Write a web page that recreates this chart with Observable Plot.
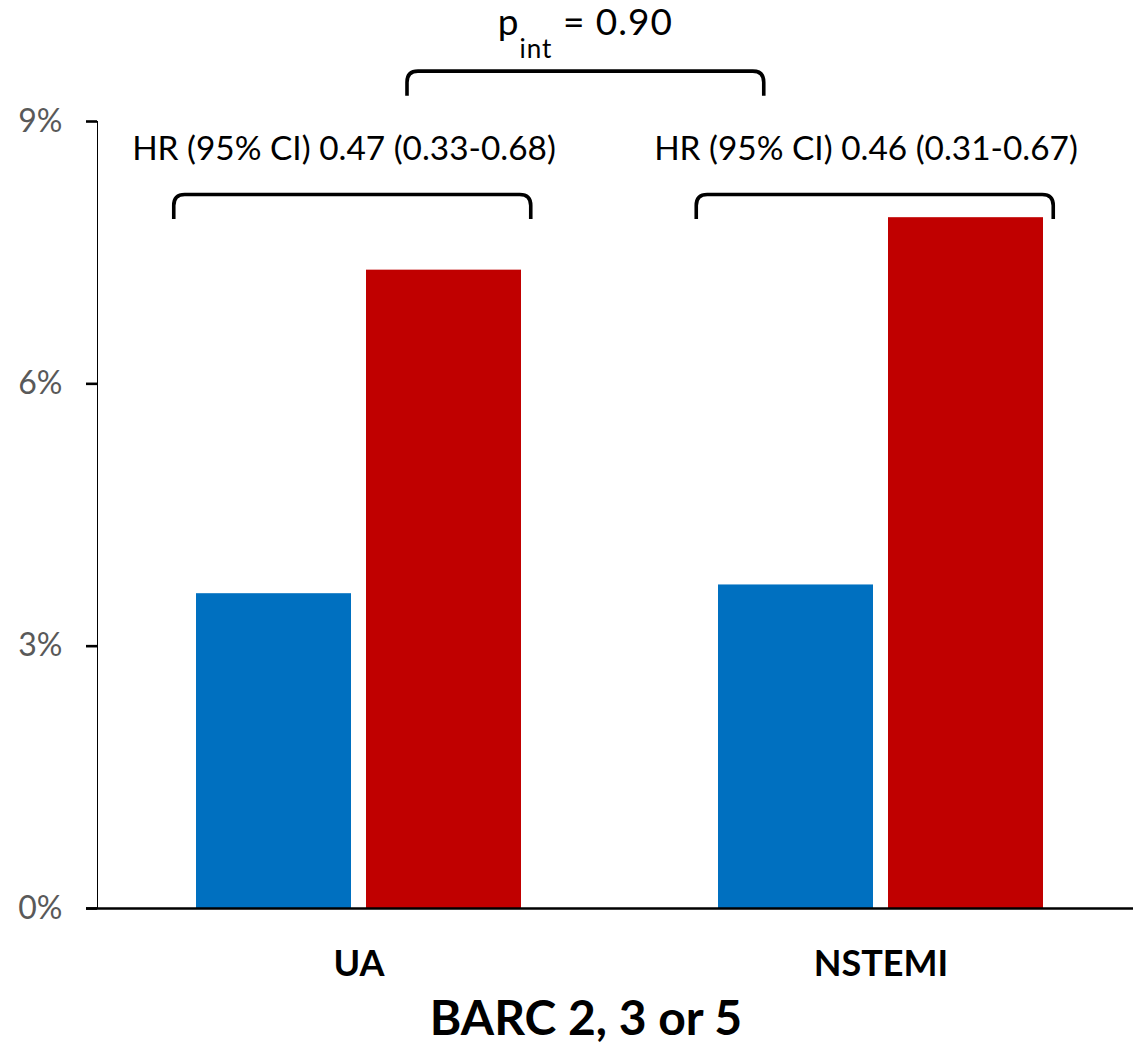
<!DOCTYPE html>
<html><head><meta charset="utf-8">
<script src="https://cdn.jsdelivr.net/npm/d3@7"></script>
<script src="https://cdn.jsdelivr.net/npm/@observablehq/plot@0.6"></script>
<style>
body{margin:0;background:#fff;font-family:Lato,"Open Sans",sans-serif}
svg{display:block}
#title{position:relative;top:5px;width:1133px;height:63px;box-sizing:border-box;padding-left:39px;text-align:center;font-weight:bold;font-size:48px;line-height:63px;color:#000}
</style>
</head><body><div id="chart"></div><div id="title"></div>
<script>
// ---- data ----
const groups = ["UA", "NSTEMI"];
const arms = ["Ticagrelor + placebo", "Ticagrelor + aspirin"];
const placeboRates = [3.6, 3.7];
const aspirinRates = [7.3, 7.9];
const hrLabels = ["HR (95% CI) 0.47 (0.33-0.68)", "HR (95% CI) 0.46 (0.31-0.67)"];
const yTicks = [0, 3, 6, 9];
const pIntValue = "0.90";
const chartTitle = "BARC 2, 3 or 5";
const armColors = ["#0070C0", "#C00000"];

const rows = groups.flatMap((g, i) => [
  {group: g, arm: arms[0], rate: placeboRates[i]},
  {group: g, arm: arms[1], rate: aspirinRates[i]}
]);
const hrRows = groups.map((g, i) => ({group: g, label: hrLabels[i]}));

const FONT = 'Lato, "Open Sans", sans-serif';
const W = 1133, H = 980;
const ML = 97, MT = 121, MB = 72;

const chart = Plot.plot({
  width: W, height: H,
  marginLeft: ML, marginTop: MT, marginBottom: MB, marginRight: 0,
  style: {fontFamily: FONT, background: "#fff", overflow: "visible", color: "#000"},
  x: {domain: groups, range: [ML, ML + 1045], paddingInner: 0.378, paddingOuter: 0.189,
      tickSize: 0, tickPadding: 42, label: null},
  y: {domain: [0, 9], ticks: yTicks, tickSize: 11, tickPadding: 24, tickFormat: d => d + "%",
      label: null, line: true},
  color: {domain: arms, range: armColors},
  marks: [
    Plot.barY(rows.filter(d => d.arm === arms[0]), {x: "group", y: "rate", fill: "arm", insetRight: 170}),
    Plot.barY(rows.filter(d => d.arm === arms[1]), {x: "group", y: "rate", fill: "arm", insetLeft: 170}),
    Plot.ruleY([0], {stroke: "#000", strokeWidth: 2.6, insetLeft: -11}),
    Plot.text(hrRows, {x: "group", y: 8.68, text: "label", dx: -15, fontSize: 33.4, fill: "#000"})
  ]
});
document.getElementById("chart").appendChild(chart);
document.getElementById("title").textContent = chartTitle;

const svg = d3.select(chart);
// ---- axis styling ----
const yAxis = svg.selectAll('g[aria-label^="y-axis"]');
yAxis.attr("font-size", 32);
yAxis.selectAll("text").attr("fill", "#595959").style("font-size", "32px");
yAxis.selectAll("path, line").attr("stroke", "#000").attr("stroke-width", 2.6);
const xAxis = svg.selectAll('g[aria-label^="x-axis"]');
xAxis.attr("font-size", 36);
xAxis.selectAll("text").attr("fill", "#000").style("font-size", "36px").style("font-weight", "bold");

// ---- annotations computed from the plot's scales ----
const xs = chart.scale("x"), ys = chart.scale("y");
const xb = d3.scaleBand().domain(xs.domain).range(xs.range)
  .paddingInner(xs.paddingInner ?? 0.378).paddingOuter(xs.paddingOuter ?? 0.189).align(xs.align ?? 0.5);
const yl = d3.scaleLinear().domain(ys.domain).range(ys.range);
const bw = xb.bandwidth();
const X = g => xb(g), Y = v => yl(v);

function bracket(x0, x1, yTop, yEnd) {
  const r = 11;
  return `M${x0},${yEnd}V${yTop + r}Q${x0},${yTop} ${x0 + r},${yTop}H${x1 - r}Q${x1},${yTop} ${x1},${yTop + r}V${yEnd}`;
}
const br = svg.append("g").attr("fill", "none").attr("stroke", "#000").attr("stroke-width", 3.6);
groups.forEach(g => {
  br.append("path").attr("d", bracket(X(g) - 22, X(g) + bw + 10, Y(8.16), Y(7.88)));
});
const tx0 = X(groups[0]) + 0.65 * bw, tx1 = X(groups[1]) + 0.14 * bw;
br.append("path").attr("d", bracket(tx0, tx1, Y(9.57), Y(9.29)));

const pt = svg.append("text")
  .attr("x", (tx0 + tx1) / 2).attr("y", Y(9.57) - 36)
  .attr("text-anchor", "middle")
  .attr("font-family", FONT).attr("font-size", 37).attr("letter-spacing", 1)
  .attr("fill", "#000");
pt.append("tspan").text("p");
pt.append("tspan").attr("font-size", 26).attr("dy", 23).text("int");
pt.append("tspan").attr("dy", -23).text(" = " + pIntValue);
</script>
</body></html>
